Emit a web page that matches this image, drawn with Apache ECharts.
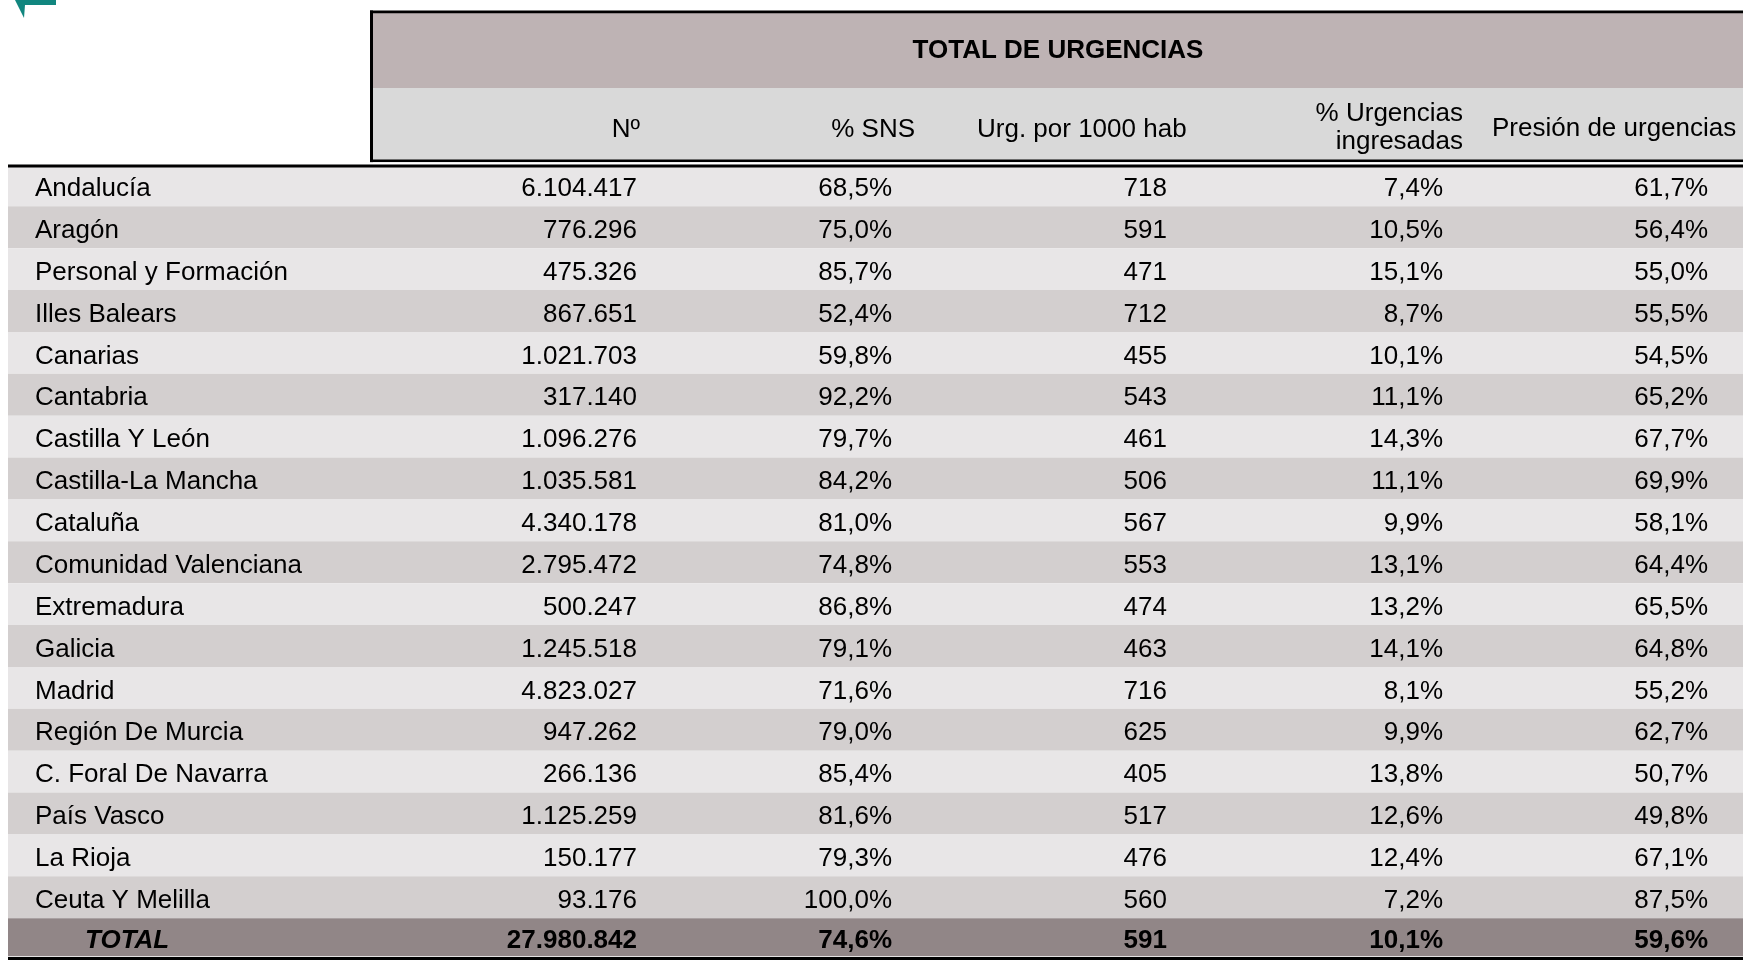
<!DOCTYPE html>
<html>
<head>
<meta charset="utf-8">
<script src="https://cdn.jsdelivr.net/npm/echarts@6/dist/echarts.min.js"></script>
<style>
html,body{margin:0;padding:0;background:#fff;}
#main{width:1743px;height:960px;}
</style>
</head>
<body>
<div id="main"></div>
<script>
// ---- data ----
const regions = ['Andalucía','Aragón','Personal y Formación','Illes Balears','Canarias','Cantabria','Castilla Y León','Castilla-La Mancha','Cataluña','Comunidad Valenciana','Extremadura','Galicia','Madrid','Región De Murcia','C. Foral De Navarra','País Vasco','La Rioja','Ceuta Y Melilla'];
const totalLabel = 'TOTAL';
const urgencias = [6104417,776296,475326,867651,1021703,317140,1096276,1035581,4340178,2795472,500247,1245518,4823027,947262,266136,1125259,150177,93176];
const pctSNS = [68.5,75.0,85.7,52.4,59.8,92.2,79.7,84.2,81.0,74.8,86.8,79.1,71.6,79.0,85.4,81.6,79.3,100.0];
const urgPor1000 = [718,591,471,712,455,543,461,506,567,553,474,463,716,625,405,517,476,560];
const pctIngresadas = [7.4,10.5,15.1,8.7,10.1,11.1,14.3,11.1,9.9,13.1,13.2,14.1,8.1,9.9,13.8,12.6,12.4,7.2];
const presion = [61.7,56.4,55.0,55.5,54.5,65.2,67.7,69.9,58.1,64.4,65.5,64.8,55.2,62.7,50.7,49.8,67.1,87.5];
const totals = [27980842,74.6,591,10.1,59.6];
const groupTitle = 'TOTAL DE URGENCIAS';
const headers = ['Nº','% SNS','Urg. por 1000 hab','% Urgencias\ningresadas','Presión de urgencias'];

// ---- formatting ----
function fmtInt(v){ return String(Math.round(v)).replace(/\B(?=(\d{3})+(?!\d))/g,'.'); }
function fmtPct(v){ return v.toFixed(1).replace('.',',') + '%'; }
const formatters = [fmtInt, fmtPct, fmtInt, fmtPct, fmtPct];
const columns = [urgencias, pctSNS, urgPor1000, pctIngresadas, presion];

// ---- layout (pixels) ----
const FONT = '"Liberation Sans", Arial, sans-serif';
const W = 1743;
const tableLeft = 8;
const labelX = 35, totalLabelX = 85;
const valueRight = [637, 892, 1167, 1443, 1708];
const totalRowHeight = 38;
const textShift = 3.5;
const colors = { light:'#E8E6E7', dark:'#D3CFCF', total:'#918687', head1:'#BEB3B4', head2:'#D9D9D9', teal:'#11867F' };

const rowNames = regions.concat([totalLabel]);
const nRows = rowNames.length;

// cells: [colIndex(-1 = label), rowIndex]
const cells = [];
for (let r = 0; r < nRows; r++) {
  cells.push([-1, r]);
  for (let c = 0; c < columns.length; c++) cells.push([c, r]);
}
function cellText(c, r){
  if (c < 0) return rowNames[r];
  const v = r < regions.length ? columns[c][r] : totals[c];
  return formatters[c](v);
}

const chart = echarts.init(document.getElementById('main'));
const option = {
  animation: false,
  backgroundColor: '#fff',
  grid: { left: 0, right: 0, top: 164.5, bottom: -1.2 },
  xAxis: { type: 'value', min: 0, max: W, show: false },
  yAxis: { type: 'category', data: rowNames, inverse: true, show: false },
  series: [
    {
      type: 'custom',
      silent: true,
      z: 1,
      data: rowNames.map((n, i) => [0, i]),
      renderItem: function (params, api) {
        const r = api.value(1);
        const c = api.coord([0, r]);
        let h = api.size([0, 1])[1];
        const top = c[1] - h / 2;
        if (r === nRows - 1) h = totalRowHeight;
        const x0 = api.coord([tableLeft, r])[0];
        const x1 = api.coord([W, r])[0];
        const fill = r === nRows - 1 ? colors.total : (r % 2 === 0 ? colors.light : colors.dark);
        return { type: 'rect', shape: { x: x0, y: top, width: x1 - x0, height: h }, style: { fill: fill } };
      }
    },
    {
      type: 'custom',
      silent: true,
      z: 3,
      data: cells,
      renderItem: function (params, api) {
        const c = api.value(0), r = api.value(1);
        const isTotal = r === nRows - 1;
        let ax, align;
        if (c < 0) { ax = isTotal ? totalLabelX : labelX; align = 'left'; }
        else { ax = valueRight[c]; align = 'right'; }
        const p = api.coord([ax, r]);
        const band = api.size([0, 1])[1];
        const y = isTotal ? (p[1] - band / 2 + totalRowHeight / 2) : p[1];
        return {
          type: 'text',
          x: p[0], y: y + textShift,
          style: {
            text: cellText(c, r),
            align: align, verticalAlign: 'middle',
            fontFamily: FONT, fontSize: 26,
            fontWeight: isTotal ? 'bold' : 'normal',
            fontStyle: (isTotal && c < 0) ? 'italic' : 'normal',
            fill: '#000'
          }
        };
      }
    }
  ],
  graphic: [
    // teal corner mark
    { type: 'polygon', z: 10, shape: { points: [[15,0],[56,0],[56,5],[25,5],[24,18]] }, style: { fill: colors.teal } },
    // header bands
    { type: 'rect', z: 10, shape: { x: 372, y: 13, width: W - 372, height: 75 }, style: { fill: colors.head1 } },
    { type: 'rect', z: 10, shape: { x: 372, y: 88, width: W - 372, height: 72 }, style: { fill: colors.head2 } },
    // header borders and rules
    { type: 'rect', z: 11, shape: { x: 370, y: 10.5, width: W - 370, height: 2.8 }, style: { fill: '#000' } },
    { type: 'rect', z: 11, shape: { x: 370, y: 10.5, width: 3, height: 152 }, style: { fill: '#000' } },
    { type: 'rect', z: 11, shape: { x: 370, y: 159.5, width: W - 370, height: 2.7 }, style: { fill: '#000' } },
    { type: 'rect', z: 11, shape: { x: 0, y: 162.2, width: W, height: 2.5 }, style: { fill: '#fff' } },
    { type: 'rect', z: 11, shape: { x: tableLeft, y: 164.5, width: W - tableLeft, height: 3 }, style: { fill: '#000' } },
    { type: 'rect', z: 11, shape: { x: tableLeft, y: 957, width: W - tableLeft, height: 3 }, style: { fill: '#000' } },
    // header texts
    { type: 'text', z: 12, x: 1058, y: 50.5, style: { text: groupTitle, align: 'center', verticalAlign: 'middle', fontFamily: FONT, fontSize: 26, fontWeight: 'bold', fill: '#000' } },
    { type: 'text', z: 12, x: 640, y: 130, style: { text: headers[0], align: 'right', verticalAlign: 'middle', fontFamily: FONT, fontSize: 26, fill: '#000' } },
    { type: 'text', z: 12, x: 915, y: 130, style: { text: headers[1], align: 'right', verticalAlign: 'middle', fontFamily: FONT, fontSize: 26, fill: '#000' } },
    { type: 'text', z: 12, x: 977, y: 130, style: { text: headers[2], align: 'left', verticalAlign: 'middle', fontFamily: FONT, fontSize: 26, fill: '#000' } },
    { type: 'text', z: 12, x: 1463, y: 128, style: { text: headers[3], align: 'right', verticalAlign: 'middle', lineHeight: 28, fontFamily: FONT, fontSize: 26, fill: '#000' } },
    { type: 'text', z: 12, x: 1492, y: 129, style: { text: headers[4], align: 'left', verticalAlign: 'middle', fontFamily: FONT, fontSize: 26, fill: '#000' } }
  ]
};
chart.setOption(option);
</script>
</body>
</html>
